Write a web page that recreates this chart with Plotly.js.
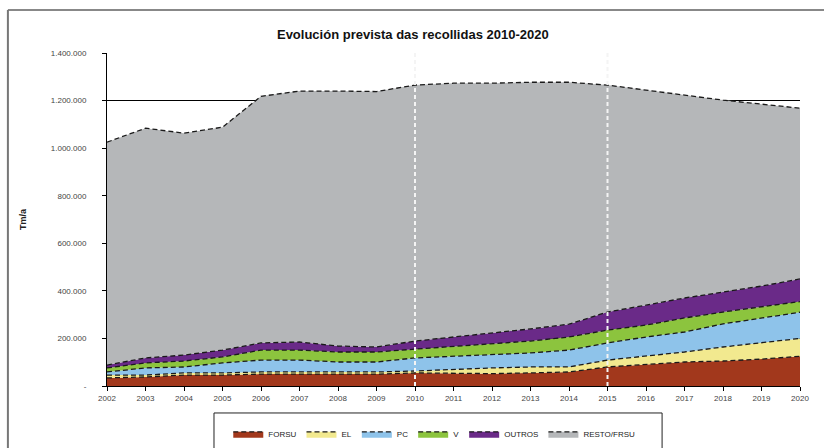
<!DOCTYPE html>
<html>
<head>
<meta charset="utf-8">
<script src="https://cdn.plot.ly/plotly-3.0.1.min.js"></script>
<style>
html,body{margin:0;padding:0;background:#fff;}
#chart{width:824px;height:448px;}
</style>
</head>
<body>
<div id="chart"></div>
<script>
var years = [2002,2003,2004,2005,2006,2007,2008,2009,2010,2011,2012,2013,2014,2015,2016,2017,2018,2019,2020];
var forsu  = [34000,38000,46000,46000,50000,50000,50000,50000,55000,52000,52000,55000,59000,80000,92000,101000,105000,113000,125000];
var el     = [12000,8000,9000,9000,9000,9000,9000,9000,8000,19000,24000,25000,21000,29000,34000,42000,59000,68000,75000];
var pc     = [13000,30000,25000,42000,50000,50000,42000,42000,55000,53000,54000,59000,71000,72000,80000,84000,97000,105000,110000];
var vidro  = [17000,21000,25000,25000,42000,42000,42000,42000,37000,42000,46000,50000,55000,54000,50000,59000,50000,46000,45000];
var outros = [12000,21000,25000,29000,30000,34000,25000,21000,34000,39000,47000,51000,54000,76000,84000,84000,84000,88000,95000];
var resto  = [937000,966000,933000,937000,1037000,1055000,1072000,1074000,1076000,1068000,1050000,1037000,1017000,954000,904000,853000,807000,765000,718000];

var seriesNames = ["FORSU","EL","PC","V","OUTROS","RESTO/FRSU"];
var seriesData = [forsu, el, pc, vidro, outros, resto];
var seriesColors = ["#A2381C","#F2E98F","#8EC3EA","#8CC43E","#6A2A88","#B5B7B9"];

var yTickVals = [0,200000,400000,600000,800000,1000000,1200000,1400000];
var yTickText = ["-","200.000","400.000","600.000","800.000","1.000.000","1.200.000","1.400.000"];
var xTickText = years.map(String);
var markerYears = [2010, 2015];

var traces = seriesNames.map(function(n, i){
  return {
    x: years, y: seriesData[i], name: n, type: 'scatter', mode: 'lines',
    stackgroup: 'one', fillcolor: seriesColors[i],
    line: {color: '#1a1a1a', width: 1.3, dash: '5px,3px', shape: 'linear'},
    hoverinfo: 'x+y+name'
  };
});

var shapes = markerYears.map(function(yr){
  return {type:'line', xref:'x', yref:'paper', x0:yr, x1:yr, y0:0, y1:1,
          line:{color:'#f4f4f4', width:2, dash:'4px,3px'}, layer:'above'};
});
// outer frame
shapes.push({type:'line', xref:'paper', yref:'paper', x0:-0.143, x1:1.04, y0:1.129, y1:1.129, line:{color:'#888', width:2}});
shapes.push({type:'line', xref:'paper', yref:'paper', x0:-0.143, x1:-0.143, y0:1.129, y1:-0.2, line:{color:'#777', width:2}});
// legend box
shapes.push({type:'rect', xref:'paper', yref:'paper', x0:0.1544, x1:0.801, y0:-0.081, y1:-0.2, line:{color:'#222', width:1}, fillcolor:'rgba(0,0,0,0)'});

var layout = {
  width: 824, height: 448,
  margin: {l:107, r:24, t:53, b:62, autoexpand:false},
  paper_bgcolor: '#fff', plot_bgcolor: '#fff',
  font: {family: '"Liberation Sans", Arial, sans-serif', size: 8, color: '#333'},
  title: {text: '<b>Evolución prevista das recollidas 2010-2020</b>', font:{size:13, color:'#111'},
          x: 0.501, xanchor:'center', y: 0.922, yanchor:'middle'},
  showlegend: true,
  legend: {orientation:'h', x:0.175, xanchor:'left', y:-0.1, yanchor:'top',
           borderwidth:0, bgcolor:'rgba(0,0,0,0)',
           traceorder:'normal', font:{size:8, color:'#222'}},
  xaxis: {range:[2002,2020], tickvals: years, ticktext: xTickText, showgrid:false,
          showline:true, linecolor:'#000', linewidth:1, ticks:'outside', ticklen:4, tickcolor:'#000',
          zeroline:false, tickfont:{size:8, color:'#444'}},
  yaxis: {range:[0,1400000], tickvals: yTickVals, ticktext: yTickText,
          showgrid:true, gridcolor:'#000', gridwidth:1,
          showline:true, linecolor:'#000', linewidth:1, ticks:'outside', ticklen:4, tickcolor:'#000',
          ticklabelstandoff: 14,
          zeroline:false, tickfont:{size:8, color:'#444'},
          title:{text:'<b>Tm/a</b>', font:{size:9, color:'#222'}, standoff: 22}},
  shapes: shapes
};

Plotly.newPlot('chart', traces, layout, {displayModeBar:false, staticPlot:true});
</script>
</body>
</html>
